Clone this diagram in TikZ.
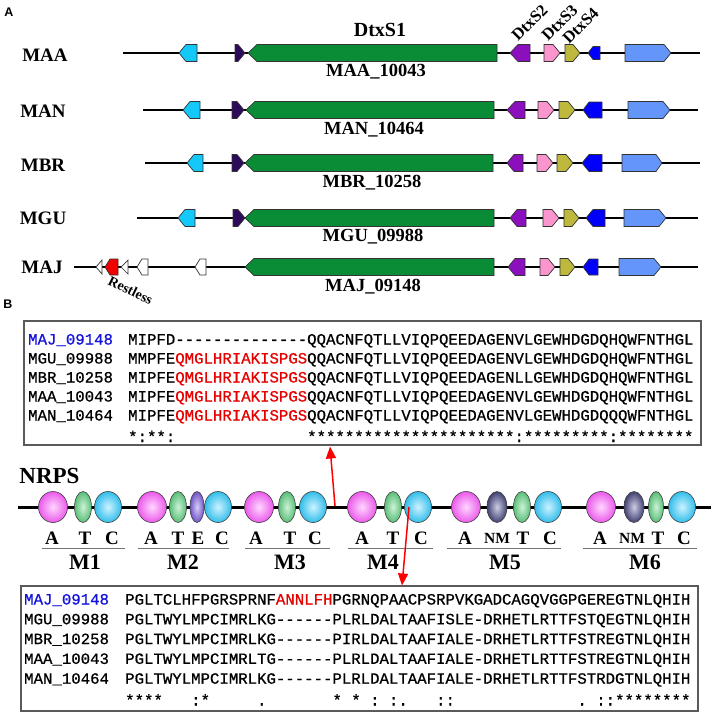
\documentclass[tikz,border=0pt]{standalone}
\usepackage{fontspec}
\setmainfont{Liberation Serif}
\newfontfamily\seqfont[FakeBold=0.7]{Liberation Mono}
\newfontfamily\panelfont{Liberation Sans}
\usetikzlibrary{shapes.geometric,arrows.meta}
\definecolor{gcyan}{RGB}{20,200,250}
\definecolor{gdpur}{RGB}{45,10,90}
\definecolor{ggreen}{RGB}{10,140,55}
\definecolor{gpurple}{RGB}{140,15,190}
\definecolor{gpink}{RGB}{250,150,205}
\definecolor{golive}{RGB}{190,185,60}
\definecolor{gblue}{RGB}{0,0,250}
\definecolor{glblue}{RGB}{100,150,250}
\definecolor{gred}{RGB}{240,0,0}
\definecolor{seqred}{RGB}{230,0,0}
\definecolor{seqblue}{RGB}{20,20,220}
\definecolor{boxgray}{RGB}{90,90,90}
\tikzset{
  genestyle/.style={draw=black!80, line width=0.7pt},
  gline/.style={line width=1.1pt, black},
  rowlbl/.style={font=\fontsize{19}{20}\selectfont\bfseries, inner sep=0pt},
  idlbl/.style={font=\fontsize{18.5}{20}\selectfont\bfseries, inner sep=0pt},
  dtxlbl/.style={font=\fontsize{16.5}{17}\selectfont\bfseries, inner sep=0pt, rotate=45, anchor=base west},
  seqtxt/.style={font=\seqfont\fontsize{15.7}{16}\selectfont, inner sep=0pt, anchor=base west},
  alnbox/.style={draw=boxgray, line width=1.2pt, inner sep=0pt},
  dom/.style={ellipse, draw=black!75, line width=0.6pt, inner sep=0pt, shading=radial},
  domA/.style={dom, minimum width=29pt, minimum height=31pt, inner color={rgb,255:red,255;green,215;blue,255}, outer color={rgb,255:red,235;green,90;blue,235}},
  domT/.style={dom, minimum width=17pt, minimum height=31pt, inner color={rgb,255:red,205;green,242;blue,215}, outer color={rgb,255:red,90;green,190;blue,120}},
  domC/.style={dom, minimum width=27pt, minimum height=31pt, inner color={rgb,255:red,205;green,242;blue,255}, outer color={rgb,255:red,50;green,190;blue,235}},
  domE/.style={dom, minimum width=14pt, minimum height=31pt, inner color={rgb,255:red,215;green,205;blue,248}, outer color={rgb,255:red,115;green,85;blue,200}},
  domN/.style={dom, minimum width=20pt, minimum height=31pt, inner color={rgb,255:red,205;green,205;blue,228}, outer color={rgb,255:red,65;green,65;blue,115}},
  dlbl/.style={font=\fontsize{19}{20}\selectfont\bfseries, inner sep=0pt},
  nmlbl/.style={font=\fontsize{15.5}{16}\selectfont\bfseries, inner sep=0pt},
  mlbl/.style={font=\fontsize{22}{23}\selectfont\bfseries, inner sep=0pt},
  uline/.style={black!55, line width=0.9pt},
  redarrow/.style={draw=red, line width=1.5pt, -{Triangle[length=12pt,width=10pt]}},
}
% right-pointing gene: x1,x2,y,colour,tip,halfheight
\newcommand\gR[6]{\filldraw[genestyle,fill=#4] (#1,#3-#6) -- (#2-#5,#3-#6) -- (#2,#3) -- (#2-#5,#3+#6) -- (#1,#3+#6) -- cycle;}
% left-pointing gene
\newcommand\gL[6]{\filldraw[genestyle,fill=#4] (#1,#3) -- (#1+#5,#3-#6) -- (#2,#3-#6) -- (#2,#3+#6) -- (#1+#5,#3+#6) -- cycle;}
\newcommand\G{-\kern0pt}
\newcommand\Gs{\G\G\G\G\G\G\G\G\G\G\G\G\G\G}
\newcommand\GS{\G\G\G\G\G\G}
\newcommand\rd[1]{\textcolor{seqred}{#1}}
\begin{document}
\begin{tikzpicture}[x=1pt,y=-1pt]
\useasboundingbox (0,0) rectangle (711,715);
\fill[white] (0,0) rectangle (711,715);

% ---------------- Panel A ----------------
\node[font=\panelfont\bfseries\fontsize{12.5}{13}\selectfont, inner sep=0pt] (labA) at (9,12) {A};

% MAA
\draw[gline] (123,53) -- (700,53);
\gL{179}{197}{53}{gcyan}{7}{8.5}
\gR{235}{245}{53}{gdpur}{7}{8.5}
\gL{248}{497}{53}{ggreen}{9}{8.5}
\gL{510}{530}{53}{gpurple}{8}{8.5}
\gR{544}{560}{53}{gpink}{7}{8.5}
\gR{565}{580}{53}{golive}{7}{8.5}
\gL{588}{600}{53}{gblue}{5}{6.5}
\gR{625}{671}{53}{glblue}{7}{8.5}
\node[rowlbl] (rMAA) at (45,55) {MAA};
\node[font=\fontsize{20}{21}\selectfont\bfseries, inner sep=0pt] (dtx1) at (380,30) {DtxS1};
\node[idlbl] (idMAA) at (376,72) {MAA\_10043};
\node[dtxlbl] (dtx2) at (518,42) {DtxS2};
\node[dtxlbl] (dtx3) at (548,42) {DtxS3};
\node[dtxlbl] (dtx4) at (569,45) {DtxS4};

% MAN
\draw[gline] (143,110) -- (698,110);
\gL{183}{200}{110}{gcyan}{7}{8.5}
\gR{232}{244}{110}{gdpur}{7}{8.5}
\gL{246}{494}{110}{ggreen}{9}{8.5}
\gL{507}{525}{110}{gpurple}{8}{8.5}
\gR{538}{554}{110}{gpink}{7}{8.5}
\gR{559}{575}{110}{golive}{7}{8.5}
\gL{583}{602}{110}{gblue}{6}{8}
\gR{628}{670}{110}{glblue}{7}{8.5}
\node[rowlbl] (rMAN) at (43,111) {MAN};
\node[idlbl] (idMAN) at (374,130) {MAN\_10464};

% MBR
\draw[gline] (145,163) -- (700,163);
\gL{187}{203}{163}{gcyan}{7}{8.5}
\gR{232}{244}{163}{gdpur}{7}{8.5}
\gL{245}{493}{163}{ggreen}{9}{8.5}
\gL{507}{523}{163}{gpurple}{7}{8.5}
\gR{537}{553}{163}{gpink}{7}{8.5}
\gR{557}{573}{163}{golive}{7}{8.5}
\gL{582}{602}{163}{gblue}{7}{8.5}
\gR{622}{662}{163}{glblue}{6}{8.5}
\node[rowlbl] (rMBR) at (43,165) {MBR};
\node[idlbl] (idMBR) at (372,183) {MBR\_10258};

% MGU
\draw[gline] (137,218) -- (698,218);
\gL{178}{195}{218}{gcyan}{7}{8.5}
\gR{233}{245}{218}{gdpur}{7}{8.5}
\gL{245}{494}{218}{ggreen}{9}{8.5}
\gL{510}{526}{218}{gpurple}{7}{8.5}
\gR{543}{559}{218}{gpink}{7}{8.5}
\gR{564}{579}{218}{golive}{7}{8.5}
\gL{586}{605}{218}{gblue}{7}{8.5}
\gR{624}{666}{218}{glblue}{7}{8.5}
\node[rowlbl] (rMGU) at (43,218) {MGU};
\node[idlbl] (idMGU) at (373,237) {MGU\_09988};

% MAJ
\draw[gline] (74,267) -- (698,267);
\gL{96}{102}{267}{white}{6}{7}
\gL{105}{118}{267}{gred}{5}{8}
\gL{121}{128}{267}{white}{7}{7}
\gL{137}{148}{267}{white}{5}{8}
\gL{195}{206}{267}{white}{5}{8}
\gL{245}{494}{267}{ggreen}{9}{8.5}
\gL{508}{525}{267}{gpurple}{7}{8.5}
\gR{540}{555}{267}{gpink}{7}{8.5}
\gR{560}{575}{267}{golive}{7}{8.5}
\gL{583}{598}{267}{gblue}{6}{8}
\gR{619}{661}{267}{glblue}{7}{8.5}
\node[rowlbl] (rMAJ) at (42,267) {MAJ};
\node[idlbl] (idMAJ) at (373,287) {MAJ\_09148};
\node[font=\fontsize{14}{15}\selectfont\bfseries, inner sep=0pt, rotate=-26, anchor=base west] (restless) at (107,284) {Restless};

% ---------------- Panel B ----------------
\node[font=\panelfont\bfseries\fontsize{12.5}{13}\selectfont, inner sep=0pt] (labB) at (8,304) {B};

% top alignment box
\node[alnbox, minimum width=677pt, minimum height=124pt] (topbox) at (362.5,383) {};
\node[seqtxt, text=seqblue] (t1n) at (28,344.5) {MAJ\_09148};
\node[seqtxt] (t2n) at (28,363.5) {MGU\_09988};
\node[seqtxt] (t3n) at (28,382.5) {MBR\_10258};
\node[seqtxt] (t4n) at (28,401.5) {MAA\_10043};
\node[seqtxt] (t5n) at (28,420.5) {MAN\_10464};
\node[seqtxt] (t1s) at (128,344.5) {MIPFD\Gs QQACNFQTLLVIQPQEEDAGENVLGEWHDGDQHQWFNTHGL};
\node[seqtxt] (t2s) at (128,363.5) {MMPFE\rd{QMGLHRIAKISPGS}QQACNFQTLLVIQPQEEDAGENVLGEWHDGDQHQWFNTHGL};
\node[seqtxt] (t3s) at (128,382.5) {MIPFE\rd{QMGLHRIAKISPGS}QQACNFQTLLVIQPQEEDAGENLLGEWHDGDQHQWFNTHGL};
\node[seqtxt] (t4s) at (128,401.5) {MIPFE\rd{QMGLHRIAKISPGS}QQACNFQTLLVIQPQEEDAGENVLGEWHDGDQHQWFNTHGL};
\node[seqtxt] (t5s) at (128,420.5) {MIPFE\rd{QMGLHRIAKISPGS}QQACNFQTLLVIQPQEEDAGENVLGEWHDGDQQQWFNTHGL};
\node[seqtxt] (t6s) at (128,442) {*:**:~~~~~~~~~~~~~~**********************:*********:********};

% NRPS
\node[font=\fontsize{23}{24}\selectfont\bfseries, inner sep=0pt] (nrps) at (49.5,476) {NRPS};
\draw[line width=3pt, black] (18,507) -- (711,507);

% M1
\node[domA] (m1a) at (53,507) {};
\node[domT] (m1t) at (83,507) {};
\node[domC] (m1c) at (108,507) {};
% M2
\node[domA] (m2a) at (152,507) {};
\node[domT] (m2t) at (178,507) {};
\node[domE] (m2e) at (197,507) {};
\node[domC] (m2c) at (218,507) {};
% M3
\node[domA] (m3a) at (259,507) {};
\node[domT] (m3t) at (287,507) {};
\node[domC] (m3c) at (313,507) {};
% M4
\node[domA] (m4a) at (362,507) {};
\node[domT] (m4t) at (393,507) {};
\node[domC] (m4c) at (418,507) {};
% M5
\node[domA] (m5a) at (466,507) {};
\node[domN] (m5n) at (497,507) {};
\node[domT] (m5t) at (522,507) {};
\node[domC] (m5c) at (548,507) {};
% M6
\node[domA] (m6a) at (601,507) {};
\node[domN] (m6n) at (634,507) {};
\node[domT, minimum width=15pt] (m6t) at (656,507) {};
\node[domC] (m6c) at (682,507) {};

% domain letters
\node[dlbl] (l1a) at (52,538) {A};
\node[dlbl] (l1t) at (85,538) {T};
\node[dlbl] (l1c) at (112,538) {C};
\node[dlbl] (l2a) at (151,538) {A};
\node[dlbl] (l2t) at (178,538) {T};
\node[dlbl] (l2e) at (198,538) {E};
\node[dlbl] (l2c) at (222,538) {C};
\node[dlbl] (l3a) at (256,538) {A};
\node[dlbl] (l3t) at (290,538) {T};
\node[dlbl] (l3c) at (315,538) {C};
\node[dlbl] (l4a) at (362,538) {A};
\node[dlbl] (l4t) at (393,538) {T};
\node[dlbl] (l4c) at (421,538) {C};
\node[dlbl] (l5a) at (465,538) {A};
\node[nmlbl] (l5n) at (497,538) {NM};
\node[dlbl] (l5t) at (523,538) {T};
\node[dlbl] (l5c) at (550,538) {C};
\node[dlbl] (l6a) at (600,538) {A};
\node[nmlbl] (l6n) at (632,538) {NM};
\node[dlbl] (l6t) at (658,538) {T};
\node[dlbl] (l6c) at (684,538) {C};

\draw[uline] (42,548) -- (125,548);
\draw[uline] (138,548) -- (229,548);
\draw[uline] (245,548) -- (330,548);
\draw[uline] (348,548) -- (433,548);
\draw[uline] (447,548) -- (561,548);
\draw[uline] (583,548) -- (697,548);

\node[mlbl] (mod1) at (85,562) {M1};
\node[mlbl] (mod2) at (183,562) {M2};
\node[mlbl] (mod3) at (290,562) {M3};
\node[mlbl] (mod4) at (383,562) {M4};
\node[mlbl] (mod5) at (505,562) {M5};
\node[mlbl] (mod6) at (645,562) {M6};

% red arrows
\coordinate (a1s) at (335,506);
\coordinate (a1e) at (330,446.5);
\coordinate (a2s) at (409,507);
\coordinate (a2e) at (402,585.5);
\draw[redarrow] (a1s) -- (a1e);
\draw[redarrow] (a2s) -- (a2e);

% bottom alignment box
\node[alnbox, minimum width=677pt, minimum height=125pt] (botbox) at (359.5,648.5) {};
\node[seqtxt, text=seqblue] (b1n) at (24,604.5) {MAJ\_09148};
\node[seqtxt] (b2n) at (24,624.3) {MGU\_09988};
\node[seqtxt] (b3n) at (24,644.1) {MBR\_10258};
\node[seqtxt] (b4n) at (24,663.9) {MAA\_10043};
\node[seqtxt] (b5n) at (24,683.7) {MAN\_10464};
\node[seqtxt] (b1s) at (125,604.5) {PGLTCLHFPGRSPRNF\rd{ANNLFH}PGRNQPAACPSRPVKGADCAGQVGGPGEREGTNLQHIH};
\node[seqtxt] (b2s) at (125,624.3) {PGLTWYLMPCIMRLKG\GS PLRLDALTAAFISLE\G DRHETLRTTFSTQEGTNLQHIH};
\node[seqtxt] (b3s) at (125,644.1) {PGLTWYLMPCIMRLKG\GS PIRLDALTAAFIALE\G DRHETLRTTFSTREGTNLQHIH};
\node[seqtxt] (b4s) at (125,663.9) {PGLTWYLMPCIMRLTG\GS PLRLDALTAAFIALE\G DRHETLRTTFSTREGTNLQHIH};
\node[seqtxt] (b5s) at (125,683.7) {PGLTWYLMPCIMRLKG\GS PLRLDALTAAFIALE\G DRHETLRTTFSTRDGTNLQHIH};
\node[seqtxt] (b6s) at (125,705.5) {****~~~:*~~~~~.~~~~~~~*~*~:~:.~~~::~~~~~~~~~~~~~.~::********};
\end{tikzpicture}
\end{document}
